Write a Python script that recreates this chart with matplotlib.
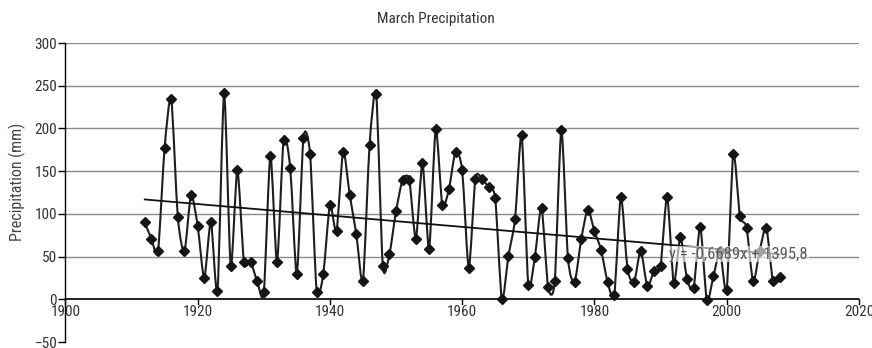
import numpy as np
import matplotlib
matplotlib.use("Agg")
import matplotlib.pyplot as plt
from matplotlib.path import Path
from matplotlib.patches import PathPatch
from matplotlib import font_manager as fm

years = list(range(1912, 2009))
precip = [90, 71, 56, 177, 235, 96, 56, 122, 86, 25,
          91, 10, 241, 39, 151, 44, 44, 21, 8, 168,
          44, 187, 154, 30, 189, 170, 9, 30, 110, 80,
          173, 122, 76, 22, 181, 240, 39, 53, 103, 140,
          140, 71, 159, 59, 199, 110, 129, 173, 151, 37,
          141, 141, 131, 118, 0, 51, 94, 192, 17, 50,
          107, 14, 21, 198, 48, 20, 70, 105, 80, 58,
          20, 5, 120, 36, 20, 57, 15, 33, 39, 120,
          19, 73, 24, 13, 85, -1, 27, 56, 11, 170,
          98, 84, 21, 57, 84, 21, 26]
trend_slope = -0.6689
trend_intercept = 1395.8
trend_label = "y = -0,6689x + 1395,8"
title = "March Precipitation"
ylabel = "Precipitation (mm)"
xticks = [1900, 1920, 1940, 1960, 1980, 2000, 2020]
yticks = [-50, 0, 50, 100, 150, 200, 250, 300]

# font choice: condensed if available
names = {f.name for f in fm.fontManager.ttflist}
cands = ["Liberation Sans Narrow", "DejaVu Sans Condensed", "Roboto Condensed",
         "Open Sans Condensed", "Noto Sans Condensed"]
fam = next((c for c in cands if c in names), "DejaVu Sans")
plt.rcParams['font.family'] = [fam, 'DejaVu Sans']
plt.rcParams['font.stretch'] = 'condensed'

fig = plt.figure(figsize=(8.72, 3.48), dpi=100)
ax = fig.add_axes([0.075, 0.0172, 0.910, 0.8592])
ax.set_xlim(1900, 2020)
ax.set_ylim(-50, 300)

# grid lines
for v in [50, 100, 150, 200, 250, 300]:
    ax.axhline(v, color='#8a8a8a', lw=1.0, zorder=1)

for s in ['top', 'right', 'bottom']:
    ax.spines[s].set_visible(False)
ax.spines['left'].set_color('black')
ax.spines['left'].set_linewidth(1.0)
ax.axhline(0, color='black', lw=1.2, zorder=2)

# smooth curve (Catmull-Rom style -> cubic Bezier, reduced tension)
x = np.array(years, dtype=float)
y = np.array(precip, dtype=float)
verts = [(x[0], y[0])]
codes = [Path.MOVETO]
n = len(x)
t = 0.12
for i in range(n - 1):
    p0 = (x[i - 1], y[i - 1]) if i > 0 else (x[i], y[i])
    p1 = (x[i], y[i])
    p2 = (x[i + 1], y[i + 1])
    p3 = (x[i + 2], y[i + 2]) if i + 2 < n else (x[i + 1], y[i + 1])
    c1 = (p1[0] + (p2[0] - p0[0]) * t, p1[1] + (p2[1] - p0[1]) * t)
    c2 = (p2[0] - (p3[0] - p1[0]) * t, p2[1] - (p3[1] - p1[1]) * t)
    verts += [c1, c2, p2]
    codes += [Path.CURVE4] * 3
ax.add_patch(PathPatch(Path(verts, codes), facecolor='none', edgecolor='#1e1e1e', lw=1.5, zorder=3))
ax.plot(x, y, linestyle='none', marker='D', markersize=5, color='#151515',
        markeredgecolor='#151515', zorder=4)

# trend line
tx = np.array([years[0], years[-1]], dtype=float)
ax.plot(tx, trend_slope * tx + trend_intercept, color='#111111', lw=1.3, zorder=3.5)
ax.text(2001.8, 53, trend_label, fontsize=12, color='#5a5a5a', ha='center', va='center',
        zorder=5, bbox=dict(boxstyle='square,pad=0.05', facecolor='white', alpha=0.6,
                            edgecolor='none'))

ax.set_xticks(xticks)
ax.set_yticks(yticks)
ax.tick_params(axis='x', bottom=False, labelbottom=False)
ax.tick_params(axis='y', direction='out', length=5, width=1, color='black',
               labelsize=11, labelcolor='#333333', pad=1)
for xt in xticks:
    ax.plot([xt, xt], [0, -5], color='black', lw=1, zorder=2, clip_on=False)
    ax.text(xt, -7, str(xt), ha='center', va='top', fontsize=11, color='#333333')

ax.set_ylabel(ylabel, fontsize=11.5, color='#444444')
ax.yaxis.set_label_coords(-0.05, 0.535)
fig.suptitle(title, fontsize=11, color='#333333', y=0.965)

fig.savefig('out.png', dpi=100)
